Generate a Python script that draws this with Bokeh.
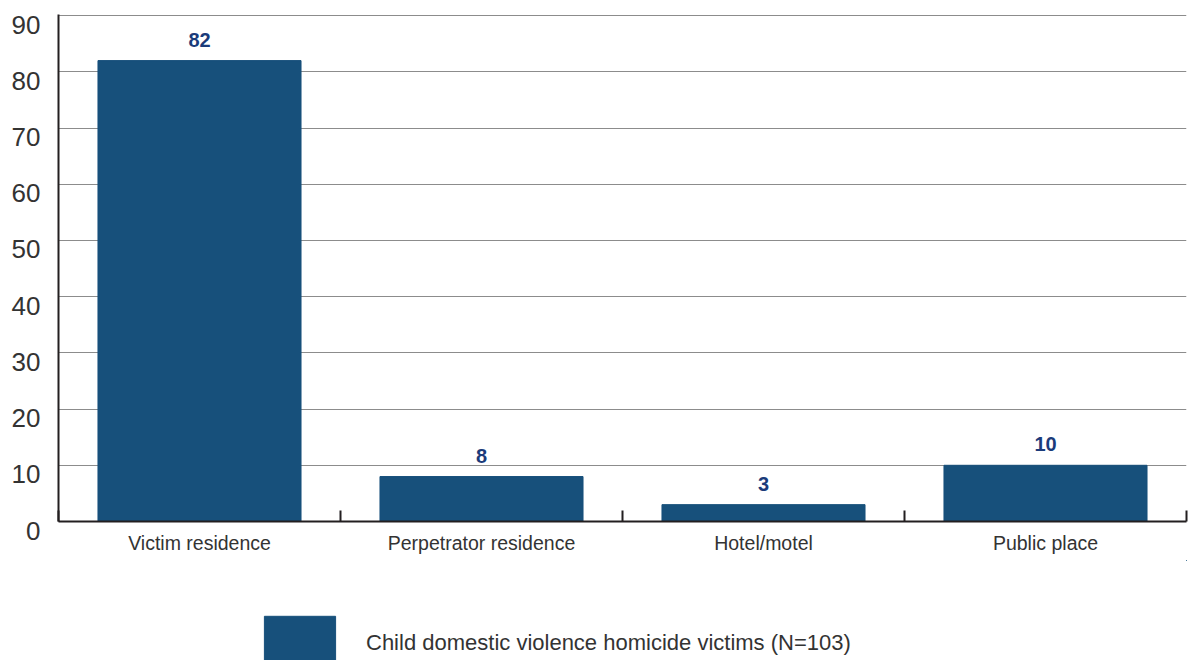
import numpy as np
from bokeh.plotting import figure
from bokeh.layouts import column
from bokeh.models import Range1d, FixedTicker, ColumnDataSource, Legend, LegendItem
from bokeh.core.properties import value
from bokeh.embed import file_html
from bokeh.resources import INLINE

categories = ["Victim residence", "Perpetrator residence", "Hotel/motel", "Public place"]
values = [82, 8, 3, 10]
series_name = "Child domestic violence homicide victims (N=103)"
y_ticks = [0, 10, 20, 30, 40, 50, 60, 70, 80, 90]

BAR = "#17507b"
LABEL = "#1b3b7a"
TXT = "#333333"
AXIS = "#231f20"
FONT = "Liberation Sans"

n = len(categories)
centers = [i + 0.5 for i in range(n)]
bounds = [float(i) for i in range(n + 1)]
ymax = y_ticks[-1]
label_shift = 1.6  # tick labels sit a little below their gridlines

src = ColumnDataSource(dict(x=centers, top=values, lab=[str(v) for v in values]))

p = figure(width=1196, height=560, output_backend="svg", toolbar_location=None,
           x_range=Range1d(0, n), y_range=Range1d(0, ymax + 0.2),
           min_border_left=58, min_border_right=10, min_border_top=14, min_border_bottom=39)
p.outline_line_color = None

r = p.vbar(x="x", top="top", bottom=0, width=0.72, source=src, color=BAR)
p.text(x="x", y="top", text="lab", source=src, text_align="center", text_baseline="alphabetic",
       y_offset=-21, text_font=value(FONT), text_font_style="bold", text_font_size="20px",
       text_color=LABEL)

# y axis: labels placed slightly below each gridline; the lowest one uses a
# leading blank line so it can sit below the axis
label_pos = [0.0] + [round(t - label_shift, 2) for t in y_ticks[1:]]
label_txt = ["\n" + str(y_ticks[0])] + [str(t) for t in y_ticks[1:]]
p.yaxis.ticker = FixedTicker(ticks=label_pos)
p.yaxis.major_label_overrides = {pos: txt for pos, txt in zip(label_pos, label_txt)}
p.yaxis.major_label_text_line_height = 0.6
p.yaxis.axis_line_color = AXIS
p.yaxis.axis_line_width = 2
p.yaxis.major_tick_in = 0
p.yaxis.major_tick_out = 0
p.yaxis.minor_tick_line_color = None
p.yaxis.major_label_standoff = 18
p.yaxis.major_label_text_font = FONT
p.yaxis.major_label_text_font_size = "26px"
p.yaxis.major_label_text_color = TXT

# x axis
p.xaxis.ticker = FixedTicker(ticks=centers, minor_ticks=bounds)
p.xaxis.major_label_overrides = {c: lab for c, lab in zip(centers, categories)}
p.xaxis.axis_line_color = AXIS
p.xaxis.axis_line_width = 2
p.xaxis.major_tick_in = 0
p.xaxis.major_tick_out = 0
p.xaxis.minor_tick_in = 11
p.xaxis.minor_tick_out = 0
p.xaxis.minor_tick_line_color = AXIS
p.xaxis.minor_tick_line_width = 2
p.xaxis.major_label_standoff = 10
p.xaxis.major_label_text_font = FONT
p.xaxis.major_label_text_font_size = "19.5px"
p.xaxis.major_label_text_color = TXT

p.xgrid.grid_line_color = None
p.ygrid.ticker = FixedTicker(ticks=y_ticks)
p.ygrid.grid_line_color = "#8c8c8c"
p.ygrid.grid_line_width = 1

# legend strip below the chart (proxy renderer kept out of view)
lg = figure(width=1196, height=100, output_backend="svg", toolbar_location=None,
            x_range=Range1d(-20, -19), y_range=Range1d(-20, -19),
            min_border=0, outline_line_color=None)
lg.axis.visible = False
lg.grid.visible = False
lr = lg.vbar(x="x", top="top", width=0.72, source=src, color=BAR)
legend = Legend(items=[LegendItem(label=series_name, renderers=[lr])],
                location=(197, -17), orientation="horizontal",
                glyph_width=89, glyph_height=68, label_standoff=22,
                padding=0, margin=0, spacing=0,
                border_line_color=None, background_fill_alpha=0,
                label_text_font=FONT, label_text_font_size="22px", label_text_color=TXT)
lg.add_layout(legend, "center")

layout = column(p, lg, spacing=0)
open("out.html", "w").write(file_html(layout, INLINE))
